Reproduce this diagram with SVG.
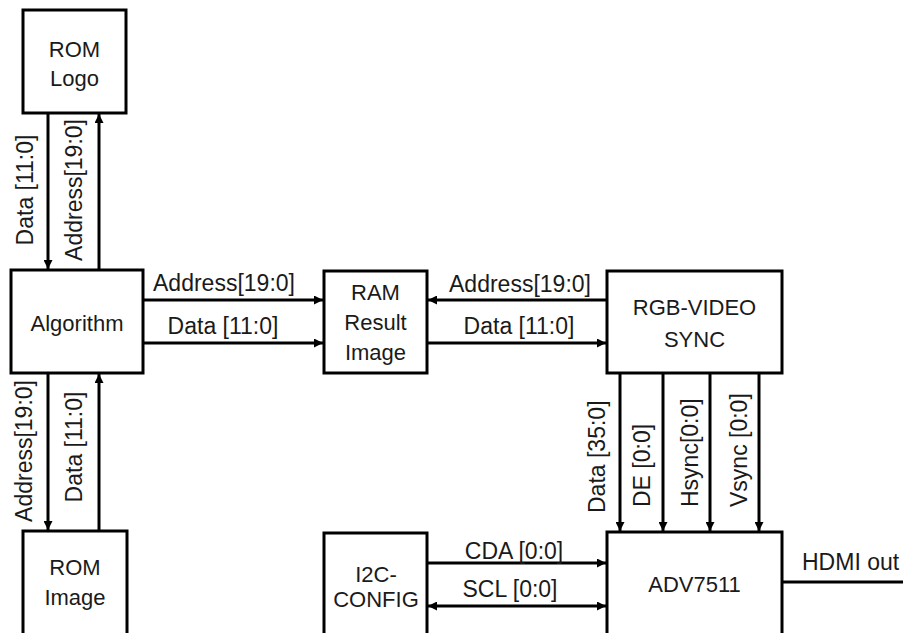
<svg xmlns="http://www.w3.org/2000/svg" width="903" height="633" viewBox="0 0 903 633">
<style>
.box{fill:#fff;stroke:#000;stroke-width:3}
.t{font-family:"Liberation Sans",Arial,sans-serif;font-size:22px;fill:#1a1a1a;text-anchor:middle}
.l{font-family:"Liberation Sans",Arial,sans-serif;font-size:23px;fill:#1a1a1a}
.c{stroke:#000;stroke-width:3;fill:none}
.a{marker-end:url(#ah)}
.b{marker-start:url(#ahs);marker-end:url(#ah)}
</style>
<defs>
<marker id="ah" markerUnits="userSpaceOnUse" markerWidth="10" markerHeight="9" refX="9" refY="4.5" orient="auto">
<path d="M0,0 L9,4.5 L0,9 z" fill="#000"/>
</marker>
<marker id="ahs" markerUnits="userSpaceOnUse" markerWidth="10" markerHeight="9" refX="0" refY="4.5" orient="auto">
<path d="M9,0 L0,4.5 L9,9 z" fill="#000"/>
</marker>
</defs>
<rect width="903" height="633" fill="#fff"/>

<g id="connectors">
<line class="c a" x1="48" y1="113" x2="48" y2="269"/>
<line class="c a" x1="99" y1="270" x2="99" y2="114"/>
<line class="c a" x1="48" y1="373" x2="48" y2="530"/>
<line class="c a" x1="99" y1="531" x2="99" y2="374"/>
<line class="c a" x1="143" y1="300" x2="323" y2="300"/>
<line class="c a" x1="143" y1="343" x2="323" y2="343"/>
<line class="c a" x1="607" y1="300" x2="428" y2="300"/>
<line class="c a" x1="427" y1="343" x2="606" y2="343"/>
<line class="c a" x1="620" y1="373" x2="620" y2="531"/>
<line class="c a" x1="663" y1="373" x2="663" y2="531"/>
<line class="c a" x1="710" y1="373" x2="710" y2="531"/>
<line class="c a" x1="759" y1="373" x2="759" y2="531"/>
<line class="c a" x1="427" y1="563" x2="606" y2="563"/>
<line class="c b" x1="428" y1="606" x2="606" y2="606"/>
<line class="c" x1="782" y1="582" x2="903" y2="582"/>
</g>

<g id="connector-labels">
<text class="l" text-anchor="middle" transform="translate(33,190) rotate(-90)">Data [11:0]</text>
<text class="l" text-anchor="middle" transform="translate(82,190) rotate(-90)">Address[19:0]</text>
<text class="l" text-anchor="middle" transform="translate(32,451) rotate(-90)">Address[19:0]</text>
<text class="l" text-anchor="middle" transform="translate(82,447) rotate(-90)">Data [11:0]</text>
<text class="l" text-anchor="middle" x="224" y="291">Address[19:0]</text>
<text class="l" text-anchor="middle" x="223" y="334">Data [11:0]</text>
<text class="l" text-anchor="middle" x="520" y="292">Address[19:0]</text>
<text class="l" text-anchor="middle" x="519" y="334">Data [11:0]</text>
<text class="l" text-anchor="start" transform="translate(605,513) rotate(-90)">Data [35:0]</text>
<text class="l" text-anchor="start" transform="translate(650,507) rotate(-90)">DE [0:0]</text>
<text class="l" text-anchor="start" transform="translate(698,507) rotate(-90)">Hsync[0:0]</text>
<text class="l" text-anchor="start" transform="translate(747,507) rotate(-90)">Vsync [0:0]</text>
<text class="l" text-anchor="middle" x="514" y="559">CDA [0:0]</text>
<text class="l" text-anchor="middle" x="510" y="597">SCL [0:0]</text>
<text class="l" text-anchor="start" x="802" y="570">HDMI out</text>
</g>

<g id="rom-logo">
<rect class="box" x="23" y="10" width="103" height="103"/>
<text class="t" x="74.5" y="57">ROM</text>
<text class="t" x="74.5" y="86">Logo</text>
</g>

<g id="algorithm">
<rect class="box" x="11" y="270" width="132" height="103"/>
<text class="t" x="77" y="331">Algorithm</text>
</g>

<g id="ram-result-image">
<rect class="box" x="324" y="271" width="103" height="102"/>
<text class="t" x="375.5" y="300">RAM</text>
<text class="t" x="375.5" y="330">Result</text>
<text class="t" x="375.5" y="360">Image</text>
</g>

<g id="rgb-video-sync">
<rect class="box" x="607" y="271" width="175" height="102"/>
<text class="t" x="694.5" y="315">RGB-VIDEO</text>
<text class="t" x="694.5" y="347">SYNC</text>
</g>

<g id="rom-image">
<rect class="box" x="23" y="531" width="104" height="110"/>
<text class="t" x="75" y="575">ROM</text>
<text class="t" x="75" y="605">Image</text>
</g>

<g id="i2c-config">
<rect class="box" x="324" y="533" width="103" height="110"/>
<text class="t" x="376" y="582">I2C-</text>
<text class="t" x="376" y="607">CONFIG</text>
</g>

<g id="adv7511">
<rect class="box" x="607" y="532" width="175" height="110"/>
<text class="t" x="694.5" y="592">ADV7511</text>
</g>
</svg>
